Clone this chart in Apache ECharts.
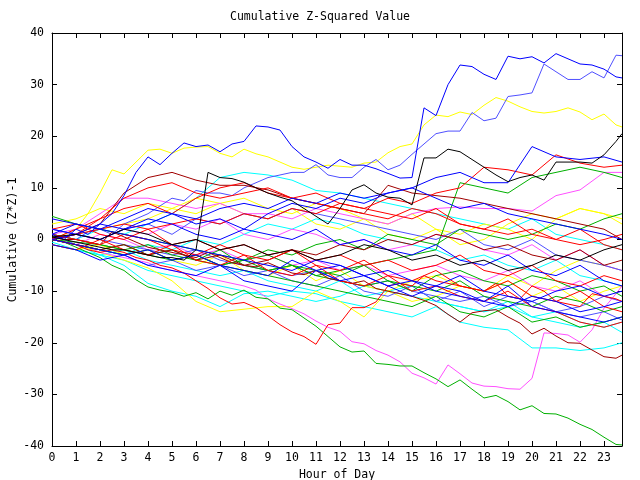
<!DOCTYPE html>
<html>
<head>
<meta charset="utf-8">
<script src="https://cdn.jsdelivr.net/npm/echarts@6/dist/echarts.min.js"></script>
<style>
html,body{margin:0;padding:0;background:#fff;}
#chart{width:640px;height:480px;}
</style>
</head>
<body>
<div id="chart"></div>
<script>
// x positions (hour of day): hourly readings and half-hourly readings
var hours = [0,1,2,3,4,5,6,7,8,9,10,11,12,13,14,15,16,17,18,19,20,21,22,23,23.75];
var halfHours = [0,0.5,1,1.5,2,2.5,3,3.5,4,4.5,5,5.5,6,6.5,7,7.5,8,8.5,9,9.5,10,10.5,11,11.5,12,12.5,13,13.5,14,14.5,15,15.5,16,16.5,17,17.5,18,18.5,19,19.5,20,20.5,21,21.5,22,22.5,23,23.5,23.75];

// series values (cumulative (Z*Z)-1), one array per line
var s01 = [1,0,2,1,3,5,8.5,13,16,14.5,16.7,18.7,18,18.3,17,18.5,19,22,21.8,21.2,18,16,15,13.8,15.5,14.4,14.4,13.7,12.8,11.9,12,25.5,24,30,33.8,33.5,32,31,35.5,35,35.4,34.2,36,35,34,33.8,33,31.5,31.3];
var s02 = [1,0.5,0,1.5,2,1,3,4,5,6.5,8,7.5,9.5,9,9,8.5,10,11,12,12.5,13,13,14.5,12.5,12,12,14,15.5,13.5,14.4,16.5,18.5,20.5,21,21,24.6,23,23.5,27.7,28,28.4,34,32.5,31,31,32.5,31.3,35.7,35.6];
var s03 = [0,1,2,5,9,13.5,12.7,15,17.3,17.5,16.7,17.7,17.9,18,16.7,16,17.5,16.6,16,15,14,13.6,14,14.4,14.2,14,14.8,15,16.8,18,18.5,22.2,24.1,23.8,24.7,24.2,26,27.5,26.8,25.7,24.8,24.5,24.8,25.5,24.7,23.2,24.3,22.2,21.8];
var s04 = [0.5,0,-0.5,-1,-1.5,-2,-2,-2.5,-3,-3.5,-3.5,-4,-2,13,12,11.8,11.1,10,9,8.2,7.5,6,4.5,3,6,9.6,10.6,9,8.2,8,6.7,15.8,15.8,17.5,17,15.5,14,12.5,11.2,12,12.5,11.5,15,15,15,14.8,16.4,19,20.5];
var s05 = [0,1,0,2,3,5,4,6,7,6,8,7,9,8,9,10,12,13,11,11,18,16,15.5,16,15];
var s06 = [0,1,3,9,12,13,11.5,10.5,10.5,9.6,8,7,6,5,10.5,9,8.5,8,7,6,5,4,3,2,0];
var s07 = [0,-0.5,-1.5,-2.5,-3.5,-5,-6,-7.8,-9.2,-9.8,-10.2,-11,-10.3,-11.5,-10,-10.8,-9.8,-11.2,-11.5,-13.3,-13.6,-15.2,-16.8,-18.8,-20.8,-21.8,-21.6,-24,-24.2,-24.5,-24.5,-25.8,-27,-28.5,-27.2,-29,-30.7,-30.2,-31.4,-33,-32.2,-33.7,-33.8,-34.6,-35.8,-36.8,-38.3,-39.7,-39.8];
var s08 = [0,-0.5,-1,-1.5,-2.5,-3,-3.5,-4,-4.5,-5.5,-6,-6.5,-7,-7.5,-8,-8.5,-9,-9.8,-11.5,-12.5,-13.4,-14.4,-15.8,-17,-17.8,-19.8,-20.2,-21.5,-22.4,-23.7,-25.9,-26.8,-28,-24.3,-26,-27.8,-28.4,-28.5,-28.9,-29,-26.9,-18.1,-18.2,-18.5,-19.9,-17.5,-13.3,-10.5,-9];
var s09 = [0.5,0,0,-0.5,-1,1.5,0.5,-0.5,-1.5,-2,-2.5,-3,-3.5,-2.5,-3.5,-4.5,-5,-5.3,-4.5,-5.5,-6.5,-6.8,-6,-7.5,-8,-8.5,-8,-9.5,-10,-10.5,-11,-11.8,-12.8,-14.5,-16,-14.2,-13.8,-13.6,-15,-16.2,-18.3,-17.2,-18.7,-20,-20.1,-21.4,-22.7,-23,-22.4];
var s10 = [0,-0.5,-1,-2,-2.5,-2,-2.5,-3.5,-4,-5,-5.5,-6.5,-8,-9.5,-11.3,-12.5,-12.2,-13.2,-14.8,-16.5,-17.9,-18.8,-20.3,-16.5,-16.2,-13.2,-13.2,-12.1,-9,-8.5,-9,-7,-8,-8.5,-9,-9.5,-10,-8.5,-11,-11.5,-9,-10,-12,-12.5,-13,-10.5,-11,-11.5,-12];
var s11 = [0,-1,-2.5,-4,-5.5,-8,-12,-14,-13.5,-13,-13,-10,-12,-15,-10,-12,-11,-9,-10,-7,-9,-6,-4,-5,-6];
var s12 = [-1,-2,-3,-4,-6,-7,-8,-9,-10,-11,-10,-10.5,-12,-13,-14,-15,-13,-16,-17,-17.5,-21,-21,-21.5,-21,-20];
var s13 = [2,1,0,-1,-2,-3,-2,-4,-5,-6,-7,-6,-8,-9,-8,-10,-11,-12,-11,-13,-12,-14,-15,-14,-15.6];
var s14 = [0,-1,-3,-5,-8.5,-10,-11,-13,-10.5,-10,-11,-12,-11,-9,-10,-11,-12,-13,-14,-13,-15,-16,-17,-16,-18];
var s15 = [1,0,-1,1,0,-2,-3,-1,-3,-4,-2,-5,-6,-4,-7,-8,-6,-9,-10,-8,-11,-12,-10,-13,-14];
var s16 = [-1,-2,0,-2,-3,-1,-4,-5,-3,-6,-7,-5,-8,-9,-7,-10,-9,-11,-12,-10,-13,-14,-16,-17,-16];
var s17 = [0,2,4,6,7,5,8,10,11,9,8,9,7,6,5,4,6,3,2,4,1,0,2,-1,-2];
var s18 = [2,3,1,0,2,-1,0,-2,-1,-3,-2,-4,-3,-5,-4,-6,-5,-3,-6,-7,-5,-8,-9,-7,-8];
var s19 = [4.5,3,2,1,0,-1,-2,-3,-4,-3,-5,-6,-7,-5,-8,-9,-10,-8,-11,-12,-13,-11,-12,-14,-13];
var s20 = [1,0,-1,-2,-1,-3,-4,-2,-5,-6,-5,-7,-8,-9,-8,-10,-7,-6,-8,-9,-7,-8,-10,-9,-11];
var s21 = [0,-1,-2,-1,-3,-4,-3,-5,-4,-2,-3,-1,0,-2,1,0,-1,2,1,0,1,3,2,4,5];
var s22 = [4,3,2,1,0,-1,-2,-3,-4,-5,-6,-4,-5,-7,-6,-8,-9,-7,-10,-11,-12,-10,-9,-11,-10];
var s23 = [0,-1,-2,-3,-2,-4,-3,-5,-6,-7,-4,-6,-8,-7,-9,-8,-10,-11,-12,-9,-13,-14,-15,-16,-15];
var s24 = [2,1,3,2,4,3,1,0,2,5,7,6,8,7,9,10,8,6,7,5,4,3,2,1,0];
var s25 = [-1,-2,-4,-3,-5,-6,-7,-5,-8,-9,-10,-6,-5,-7,-9,-11,-9,-10,-12,-13,-11,-12,-14,-13,-12];
var s26 = [1,3,2,4,6,5,3,4,2,1,0,2,-1,0,-2,-3,-1,-4,-5,-3,-6,-7,-5,-8,-9];
var s27 = [0,-1,1,0,-2,-1,-3,-2,-4,-3,-5,-4,-6,-5,-7,-6,-5,-7,-8,-6,-9,-10,-8,-11,-12];
var s28 = [2,1,0,2,1,3,2,4,1,0,2,1,-1,0,-2,-1,1,0,-2,-3,-1,-4,-2,-5,-6];
var s29 = [0,-1,-2,-3,-1,-2,0,-1,1,3,2,4,3,1,0,-1,-2,-4,-3,-5,-6,-4,-7,-8,-9];
var s30 = [1,0,2,1,3,5,8,12,13,12.5,11.5,9.5,9,8,7,6,5,4,3,2,4,1,0,-1,-2];
var s31 = [-0.5,-2,-3,-2,-4,-5,-6,-7,-6,-8,-9,-10,-8,-11,-10,-9,-12,-13,-14,-12,-15,-14,-16,-17,-16];
var s32 = [0,1,2,3,4,6,5,7,8,6,5,7,6,4,3,5,2,1,3,2,0,4,6,5,4];
var s33 = [-1,-2,-1,-3,-2,-4,-5,-3,-6,-7,-5,-8,-6,-9,-10,-8,-7,-9,-10,-8,-11,-9,-12,-10,-9];
var s34 = [3,4,6,5,7,6,8,7,5,4,6,3,2,4,1,0,2,-1,0,3,5,4,6,5,3];
var s35 = [0.5,1,0,2,1,-1,0,-2,-1,-3,-2,-4,-3,-1,-2,-4,-3,-5,-4,-6,-5,-3,-4,-2,-1];
var s36 = [0,1,0,2,3,1,4,3,5,4,6,5,4,3,2,1,0,2,-1,-2,0,-3,-4,-5,-6];
var s37 = [1,-1,-2,-3,-5,-4,-6,-5,-7,-6,-8,-9,-7,-10,-11,-9,-12,-10,-13,-11,-12,-14,-13,-11,-12];
var s38 = [0,-1,-2,-1,-3,-2,-4,-3,-5,-4,-2,-3,-1,-2,0,-1,1,0,-2,-1,-3,-4,-2,-5,-4];
var s39 = [0,1,4,8,10,11,9,8,9,10,8,7,6,5,4,6,5,3,2,1,2,0,-1,0,1];
var s40 = [0,-0.5,-1,-2,-3,-2,-4,-5,-6,-7,-8,-9,-10,-11,-12,-13,-11,-14,-15,-13,-16,-15,-17,-16,-15];
var s41 = [0,-1,-2,-3,-2,-4,-3,-5,-4,-6,-5,-7,-6,-5,-4,-3,-2,11,10,9,12,13,14,13,12];
var s42 = [0,1,2,3,2,3,4,3,5,4,6,5,7,6,8,7,9,10,14,13.5,12.5,16.4,14.8,14,14.4];
var s43 = [1,2,5,8,8,7,6,7,5,5,4,6,5,4,3,5,6,6.3,6,6,5.5,8.5,9.6,13,13];

var lines = [
  [s12,'#00ffff'],[s14,'#00ffff'],[s31,'#00ffff'],[s29,'#00ffff'],[s30,'#00ffff'],
  [s11,'#ffff00'],[s32,'#ffff00'],[s33,'#ffff00'],[s34,'#ffff00'],[s03,'#ffff00'],
  [s08,'#ff50ff'],[s27,'#ff50ff'],[s28,'#ff50ff'],[s43,'#ff50ff'],
  [s13,'#5050ff'],[s36,'#5050ff'],[s37,'#5050ff'],[s02,'#5050ff'],
  [s07,'#00b000'],[s19,'#00b000'],[s20,'#00b000'],[s21,'#00b000'],[s40,'#00b000'],[s41,'#00b000'],
  [s09,'#a00000'],[s06,'#a00000'],[s38,'#a00000'],
  [s10,'#ff0000'],[s15,'#ff0000'],[s16,'#ff0000'],[s17,'#ff0000'],[s18,'#ff0000'],[s39,'#ff0000'],[s42,'#ff0000'],
  [s22,'#0000ff'],[s23,'#0000ff'],[s24,'#0000ff'],[s25,'#0000ff'],[s26,'#0000ff'],[s05,'#0000ff'],[s01,'#0000ff'],
  [s35,'#000000'],[s04,'#000000']
];

var FONT = 'DejaVu Sans Mono';
var series = lines.map(function (l) {
  var xs = l[0].length === halfHours.length ? halfHours : hours;
  return {
    type: 'line',
    xAxisIndex: 0, yAxisIndex: 0,
    data: xs.map(function (h, i) { return [h, l[0][i]]; }),
    showSymbol: false,
    lineStyle: { width: 1, color: l[1] },
    itemStyle: { color: l[1] },
    silent: true
  };
});

var chart = echarts.init(document.getElementById('chart'), null, { renderer: 'canvas' });
var axisCommon = {
  axisLine: { show: true, onZero: false, lineStyle: { color: '#000', width: 1 } },
  axisTick: { show: true, inside: true, length: 5, lineStyle: { color: '#000' } },
  splitLine: { show: false }
};
chart.setOption({
  animation: false,
  backgroundColor: '#fff',
  title: {
    text: 'Cumulative Z-Squared Value',
    left: 'center', top: 6,
    textStyle: { fontFamily: FONT, fontSize: 11.5, fontWeight: 'normal', color: '#000' }
  },
  grid: { left: 52, right: 18, top: 33, bottom: 34, containLabel: false, outerBoundsMode: 'none' },
  graphic: [{
    type: 'text', left: 7, top: 'middle', rotation: Math.PI / 2,
    style: { text: 'Cumulative (Z*Z)-1', font: '11.5px "DejaVu Sans Mono"', fill: '#000' }
  }],
  xAxis: [
    Object.assign({
      type: 'value', min: 0, max: 23.75, interval: 1, position: 'bottom',
      name: 'Hour of Day', nameLocation: 'middle', nameGap: 19,
      nameTextStyle: { fontFamily: FONT, fontSize: 11.5, color: '#000' },
      axisLabel: { fontFamily: FONT, fontSize: 11.5, color: '#000', margin: 6,
        formatter: function (v) { return Number.isInteger(v) ? String(v) : ''; } }
    }, axisCommon),
    Object.assign({
      type: 'value', min: 0, max: 23.75, interval: 1, position: 'top',
      axisLabel: { show: false }
    }, axisCommon)
  ],
  yAxis: [
    Object.assign({
      type: 'value', min: -40, max: 40, interval: 10, position: 'left',
      axisLabel: { fontFamily: FONT, fontSize: 11.5, color: '#000', margin: 8 }
    }, axisCommon),
    Object.assign({
      type: 'value', min: -40, max: 40, interval: 10, position: 'right',
      axisLabel: { show: false }
    }, axisCommon)
  ],
  series: series
});
</script>
</body>
</html>
